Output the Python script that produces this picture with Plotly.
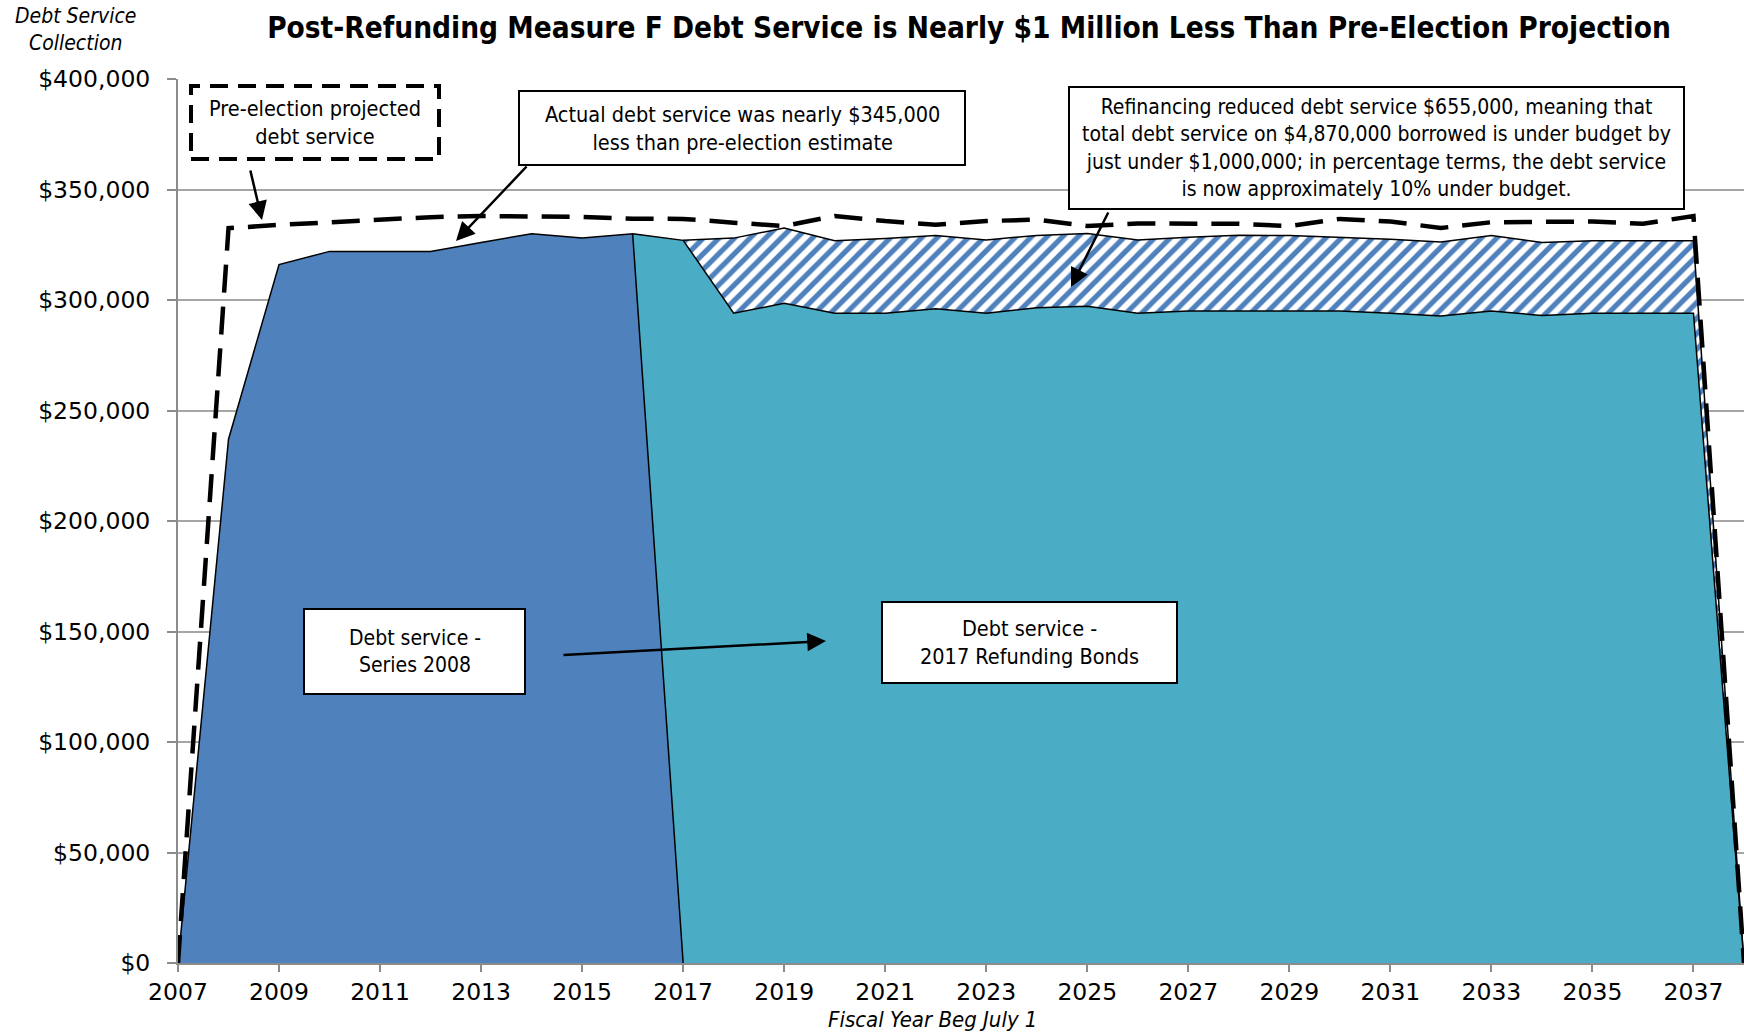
import plotly.graph_objects as go

# ---- data ----
years_2008 = list(range(2007, 2018))
series_2008 = [0, 237000, 316000, 322000, 322000, 322000, 326000, 330000, 328000, 330000, 0]

years_refund = list(range(2016, 2039))
refunding_2017 = [330000, 327000, 294000, 298500, 294000, 294000, 296000, 294000, 296500, 297200,
                  294000, 295000, 295000, 295000, 295000, 294000, 292800, 295000, 293000, 294000,
                  294000, 294000, 0]

years_prior = list(range(2017, 2039))
prior_schedule = [327000, 328000, 332600, 326800, 327800, 329200, 327200, 329200, 330100, 327200,
                  328400, 329300, 329200, 328400, 327500, 326300, 329200, 326000, 326800, 326800,
                  326800, 0]

years_proj = list(range(2007, 2039))
pre_election = [0, 332500, 334000, 335200, 336500, 337500, 338000, 338000, 337600, 336800,
                336700, 335000, 333500, 338000, 335700, 334000, 335700, 336400, 333500, 334600,
                334600, 334500, 333400, 336700, 335500, 332600, 335200, 335600, 335500, 334500,
                338000, 0]

y_ticks = [0, 50000, 100000, 150000, 200000, 250000, 300000, 350000, 400000]
y_tick_text = ["$0", "$50,000", "$100,000", "$150,000", "$200,000", "$250,000",
               "$300,000", "$350,000", "$400,000"]

BLUE = "#4F81BD"
TEAL = "#4BACC6"
FONT = "DejaVu Sans"
FONT_C = "DejaVu Sans Condensed, DejaVu Sans"

W, H = 1744, 1032
ML, MR, MT, MB = 178, 0, 79, 69
PW, PH = W - ML - MR, H - MT - MB


def paper(px, py):
    """Convert page pixel position to paper coordinates."""
    return (px - ML) / PW, (H - MB - py) / PH


fig = go.Figure()

# hatched savings band (pre-refunding schedule)
fig.add_trace(go.Scatter(
    x=years_prior, y=prior_schedule, mode="lines", fill="tozeroy",
    line=dict(color="black", width=1.5),
    fillpattern=dict(shape="/", fgcolor=BLUE, fgopacity=1, bgcolor="white",
                     size=11, solidity=0.48),
    hoverinfo="skip", showlegend=False))

# 2017 refunding bonds
fig.add_trace(go.Scatter(
    x=years_refund, y=refunding_2017, mode="lines", fill="tozeroy",
    fillcolor=TEAL, line=dict(color="black", width=1.5),
    hoverinfo="skip", showlegend=False))

# Series 2008
fig.add_trace(go.Scatter(
    x=years_2008, y=series_2008, mode="lines", fill="tozeroy",
    fillcolor=BLUE, line=dict(color="black", width=1.5),
    hoverinfo="skip", showlegend=False))

# pre-election projection
fig.add_trace(go.Scatter(
    x=years_proj, y=pre_election, mode="lines",
    line=dict(color="black", width=4.5, dash="28px,14px"),
    hoverinfo="skip", showlegend=False))

shapes = []
annotations = []


def box(x0, y0, x1, y1, text, dashed=False, size=21.5):
    a0, b0 = paper(x0, y1)
    a1, b1 = paper(x1, y0)
    shapes.append(dict(
        type="rect", xref="paper", yref="paper", x0=a0, y0=b0, x1=a1, y1=b1,
        fillcolor="white",
        line=dict(color="black", width=4 if dashed else 2, dash="18px,10px" if dashed else "solid"),
        layer="above"))
    cx, cy = paper((x0 + x1) / 2, (y0 + y1) / 2)
    annotations.append(dict(
        xref="paper", yref="paper", x=cx, y=cy, text=text, showarrow=False,
        xanchor="center", yanchor="middle", align="center",
        font=dict(family=FONT_C, size=size, color="black")))


def arrow(tx, ty, hx, hy):
    hxp, hyp = paper(hx, hy)
    annotations.append(dict(
        xref="paper", yref="paper", x=hxp, y=hyp, ax=tx - hx, ay=ty - hy,
        text="", showarrow=True, arrowhead=2, arrowsize=1.5, arrowwidth=2.5,
        arrowcolor="black"))


box(191, 86, 439, 159, "Pre-election projected<br>debt service", dashed=True)
box(519, 91, 965, 165, "Actual debt service was nearly $345,000<br>less than pre-election estimate")
box(1069, 87, 1684, 209,
    "Refinancing reduced debt service $655,000, meaning that<br>"
    "total debt service on $4,870,000 borrowed is under budget by<br>"
    "just under $1,000,000; in percentage terms, the debt service<br>"
    "is now approximately 10% under budget.", size=21)
box(304, 609, 525, 694, "Debt service -<br>Series 2008", size=21)
box(882, 602, 1177, 683, "Debt service -<br>2017 Refunding Bonds", size=21.5)

arrow(250, 169, 262, 220)
arrow(528, 165, 456, 241)
arrow(1109, 211, 1071, 287)
arrow(562, 655, 826, 641)

# axis titles
tx, ty = paper(75, 30)
annotations.append(dict(
    xref="paper", yref="paper", x=tx, y=ty, text="<i>Debt Service<br>Collection</i>",
    showarrow=False, xanchor="center", yanchor="middle", align="center",
    font=dict(family=FONT_C, size=21, color="black")))
tx, ty = paper(932, 1019)
annotations.append(dict(
    xref="paper", yref="paper", x=tx, y=ty, text="<i>Fiscal Year Beg July 1</i>",
    showarrow=False, xanchor="center", yanchor="middle",
    font=dict(family=FONT_C, size=22, color="black")))

fig.update_layout(
    width=W, height=H,
    margin=dict(l=ML, r=MR, t=MT, b=MB),
    paper_bgcolor="white", plot_bgcolor="white",
    title=dict(
        text="<b>Post-Refunding Measure F Debt Service is Nearly $1 Million Less Than Pre-Election Projection</b>",
        x=(266 + 1672) / 2 / W, xanchor="center", y=1 - 28 / H, yanchor="middle",
        font=dict(family=FONT_C, size=29.5, color="black")),
    xaxis=dict(
        range=[2007, 2038], tickmode="linear", tick0=2007, dtick=2,
        showgrid=False, showline=True, linecolor="#8c8c8c", linewidth=2,
        ticks="outside", ticklen=7, tickcolor="#8c8c8c", tickwidth=1.5,
        tickfont=dict(family=FONT, size=23.5, color="black"), zeroline=False),
    yaxis=dict(
        range=[0, 400000], tickmode="array", tickvals=y_ticks, ticktext=y_tick_text,
        showgrid=True, gridcolor="#a6a6a6", gridwidth=1.5,
        showline=True, linecolor="#8c8c8c", linewidth=2,
        ticks="outside", ticklen=9, tickcolor="#8c8c8c", tickwidth=1.5,
        ticklabelstandoff=12,
        tickfont=dict(family=FONT, size=23.5, color="black"), zeroline=False),
    shapes=shapes, annotations=annotations,
)

fig.write_html("out.html")
